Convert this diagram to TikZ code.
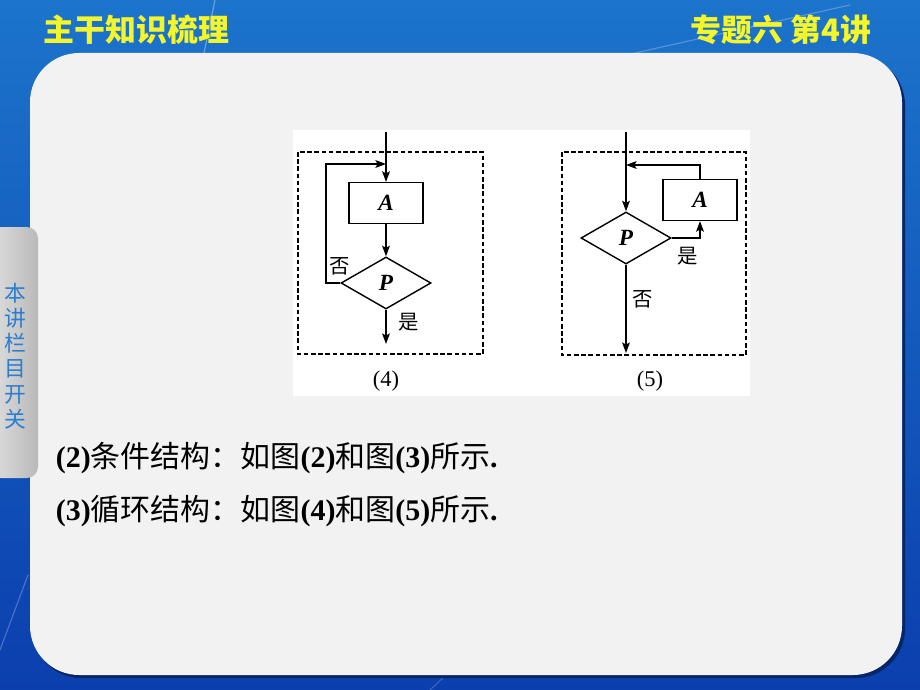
\documentclass[tikz,border=0pt]{standalone}
\usepackage{fontspec}
\setmainfont{Liberation Serif}
\newfontfamily\cjk{Noto Sans CJK SC}
\usepackage{tikz}
\usetikzlibrary{positioning, shapes.geometric, arrows.meta}

\definecolor{slideblue}{HTML}{1C74CB}
\definecolor{slidedeep}{HTML}{0B3FAE}
\definecolor{panelgray}{HTML}{F2F2F2}
\definecolor{headyellow}{HTML}{F4F52A}
\definecolor{tabblue}{HTML}{2A7DCF}

\begin{document}
\begin{tikzpicture}[x=0.025cm, y=-0.025cm,
    box/.style={draw, rectangle, line width=1pt, minimum width=1.85cm, minimum height=1.02cm, inner sep=0pt, font=\fontsize{16.5}{16.5}\selectfont\bfseries\itshape},
    dec/.style={draw, diamond, line width=1pt, minimum width=2.25cm, minimum height=1.3cm, inner sep=0pt, font=\fontsize{16.5}{16.5}\selectfont\bfseries\itshape},
    arr/.style={-{Stealth[length=7.5pt, width=5.5pt, inset=1.5pt]}, line width=1pt},
    frame/.style={dashed, line width=0.9pt, dash pattern=on 3.2pt off 1.9pt},
    tag/.style={font=\cjk\fontsize{14.5}{14.5}\selectfont},
    figcap/.style={font=\fontsize{16}{16}\selectfont}]
        \useasboundingbox (0,0) rectangle (920,690);

        % Background
        \shade[top color=slideblue, bottom color=slidedeep] (0,0) rectangle (920,690);
        \draw[white, opacity=0.35, line width=0.8pt] (204,53) -- (215,0);
        \draw[white, opacity=0.25, line width=0.8pt] (635,53) -- (850,5);
        \draw[white, opacity=0.25, line width=0.8pt] (0,650) -- (28,575);
        \draw[white, opacity=0.2, line width=0.8pt] (430,690) -- (445,676);

        % Panel
        \fill[black!40!slidedeep, rounded corners=35] (32,56) rectangle (905,678);
        \fill[panelgray, rounded corners=35] (30,53) rectangle (902,675);
        \fill[white] (293,130) rectangle (750,396);

        % Side tab
        \shade[left color=gray!25, right color=gray!55, rounded corners=8] (-10,227) rectangle (38,478);
        \node (tab) [tabblue, align=center, font=\cjk\fontsize{15.5}{18}\selectfont] at (15,356) {本\\讲\\栏\\目\\开\\关};

        % Header
        \node (title) [anchor=west, headyellow, font=\cjk\fontsize{22}{22}\selectfont\bfseries] at (39,30) {主干知识梳理};
        \node (lesson) [anchor=east, headyellow, font=\cjk\fontsize{22}{22}\selectfont\bfseries] at (876,30) {专题六 第4讲};

        % Figure (4)
        \coordinate (in4) at (386,132);
        \node (A4) [box] at (386,203) {A};
        \node (P4) [dec] at (386,283) {P};
        \coordinate (out4) at (386,344);
        \coordinate (back4) at (326,164);
        \draw[arr] (in4) -- (A4);
        \draw[arr] (A4) -- (P4);
        \draw[arr] (P4) -- (out4);
        \draw[arr] (P4.west) -| (back4) -- (back4 -| A4.north);
        \node (no4) [tag] at (340,266) {否};
        \node (yes4) [tag] at (409,322) {是};
        \draw[frame] (298,152) rectangle (483,354);
        \node (cap4) [figcap] at (386,381) {(4)};

        % Figure (5)
        \coordinate (in5) at (626,132);
        \node (P5) [dec] at (626,238) {P};
        \node (A5) [box] at (700,200) {A};
        \coordinate (out5) at (626,353);
        \coordinate (back5) at (700,165);
        \draw[arr] (in5) -- (P5);
        \draw[arr] (P5) -- (out5);
        \draw[arr] (A5.north) -- (back5) -- (back5 -| P5.north);
        \draw[arr] (P5.east) -| (A5.south);
        \node (yes5) [tag] at (688,256) {是};
        \node (no5) [tag] at (643,299) {否};
        \draw[frame] (562,152) rectangle (746,355);
        \node (cap5) [figcap] at (650,381) {(5)};

        % Text lines
        \node (line2) [anchor=west, font=\fontsize{21.3}{21.3}\selectfont] at (51,458)
            {\textbf{(2)}{\cjk 条件结构：如图}\textbf{(2)}{\cjk 和图}\textbf{(3)}{\cjk 所示}\textbf{.}};
        \node (line3) [anchor=west, font=\fontsize{21.3}{21.3}\selectfont] at (51,511)
            {\textbf{(3)}{\cjk 循环结构：如图}\textbf{(4)}{\cjk 和图}\textbf{(5)}{\cjk 所示}\textbf{.}};
\end{tikzpicture}
\end{document}
